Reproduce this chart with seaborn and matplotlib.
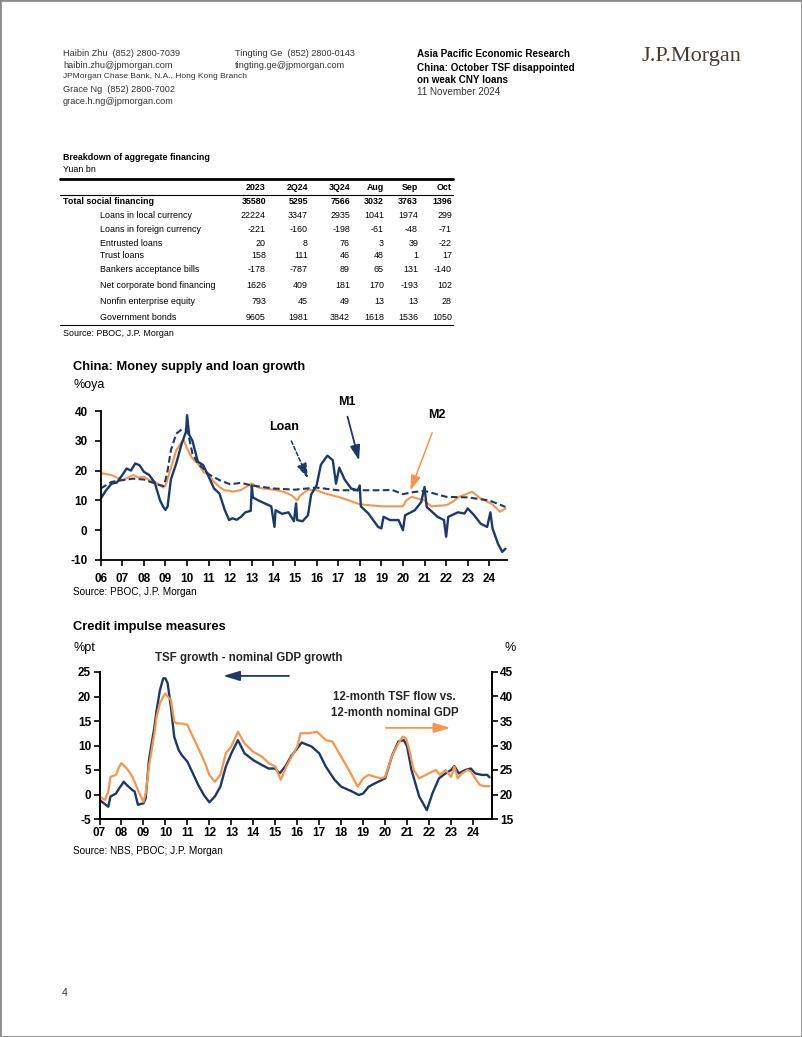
import pandas as pd
import matplotlib.pyplot as plt
import seaborn as sns
from matplotlib.patches import Rectangle

# ---- table data ----
table_cols = ['2023', '2Q24', '3Q24', 'Aug', 'Sep', 'Oct']
table_rows = ['Total social financing', 'Loans in local currency', 'Loans in foreign currency',
              'Entrusted loans', 'Trust loans', 'Bankers acceptance bills',
              'Net corporate bond financing', 'Nonfin enterprise equity', 'Government bonds']
col_2023 = [35580, 22224, -221, 20, 158, -178, 1626, 793, 9605]
col_2q24 = [5295, 3347, -160, 8, 111, -787, 409, 45, 1981]
col_3q24 = [7566, 2935, -198, 76, 46, 89, 181, 49, 3842]
col_aug = [3032, 1041, -61, 3, 48, 65, 170, 13, 1618]
col_sep = [3763, 1974, -48, 39, 1, 131, -193, 13, 1536]
col_oct = [1396, 299, -71, -22, 17, -140, 102, 28, 1050]

# ---- chart 1: money supply and loan growth (%oya), x in years since 2000 ----
m1_year = [6.0, 6.25, 6.5, 6.75, 7.0, 7.2, 7.4, 7.6, 7.8, 8.0, 8.25, 8.5, 8.75, 8.9, 9.0, 9.1,
           9.25, 9.5, 9.75, 9.95, 10.0, 10.1, 10.25, 10.5, 10.75, 11.0, 11.25, 11.5, 11.75, 11.95,
           12.1, 12.3, 12.5, 12.7, 12.95, 13.0, 13.05, 13.3, 13.6, 13.9, 14.05, 14.1, 14.4, 14.7,
           14.95, 15.05, 15.1, 15.35, 15.6, 15.75, 16.0, 16.2, 16.5, 16.75, 16.9, 17.05, 17.3,
           17.6, 17.9, 18.0, 18.05, 18.4, 18.85, 19.0, 19.1, 19.4, 19.8, 20.0, 20.1, 20.55, 20.85,
           21.0, 21.1, 21.6, 21.9, 22.0, 22.1, 22.55, 22.85, 23.0, 23.3, 23.6, 23.9, 24.05, 24.15,
           24.4, 24.6, 24.75]
m1_val = [10.6, 13.4, 15.6, 16.0, 18.5, 20.7, 20.0, 22.4, 21.8, 19.6, 18.5, 16.0, 10.0, 7.8, 6.8, 8.0,
          17.0, 22.4, 29.0, 33.0, 38.6, 32.0, 30.0, 23.0, 21.8, 18.0, 14.0, 12.3, 6.7, 3.4,
          4.0, 3.5, 4.5, 6.0, 6.5, 15.0, 11.0, 10.0, 9.0, 8.0, 1.1, 6.7, 5.5, 6.0,
          3.0, 9.0, 3.4, 3.0, 5.0, 12.0, 15.0, 22.0, 25.0, 23.5, 15.6, 21.0, 17.0,
          14.0, 13.4, 15.0, 8.0, 5.6, 1.1, 0.6, 4.5, 3.4, 3.4, 0.0, 5.0, 6.7, 9.5,
          14.5, 7.8, 4.5, 3.4, -2.2, 4.5, 6.0, 5.6, 7.3, 5.0, 2.2, 1.1, 6.0, 0.6,
          -4.5, -7.3, -6.2]
m2_year = [6.0, 6.5, 7.0, 7.5, 7.75, 8.0, 8.25, 8.5, 8.9, 9.0, 9.25, 9.5, 9.75, 9.85, 10.0, 10.25,
           10.5, 10.75, 11.0, 11.25, 11.5, 11.75, 12.0, 12.1, 12.5, 13.0, 13.25, 13.5, 14.05, 14.5,
           14.85, 15.1, 15.25, 15.6, 16.0, 16.4, 17.0, 17.5, 18.0, 19.0, 20.0, 20.15, 20.4, 21.0,
           21.3, 22.0, 22.3, 22.6, 23.0, 23.2, 23.6, 24.1, 24.5, 24.75]
m2_val = [19.2, 18.5, 16.8, 18.5, 17.7, 17.9, 16.8, 16.2, 14.3, 15.0, 20.7, 26.8, 29.6, 30.2, 27.4, 24.0,
          22.4, 19.6, 18.5, 16.2, 14.5, 13.4, 13.2, 12.9, 13.5, 15.7, 14.5, 14.0, 13.6, 12.8,
          11.7, 10.0, 11.7, 13.6, 13.4, 12.3, 11.2, 10.0, 8.7, 8.0, 8.0, 10.0, 11.2, 10.0,
          8.0, 8.4, 9.5, 11.2, 12.3, 12.9, 10.6, 8.9, 6.2, 7.3]
loan_year = [6.0, 6.5, 7.0, 7.5, 8.0, 8.5, 8.9, 9.0, 9.1, 9.25, 9.5, 9.75, 9.95, 10.05, 10.25, 10.5,
             10.75, 11.0, 11.5, 12.0, 12.5, 13.0, 14.0, 15.0, 16.0, 17.0, 18.0, 19.0, 19.5, 20.0,
             20.5, 21.0, 22.0, 23.0, 24.0, 24.75]
loan_val = [14.0, 16.2, 16.8, 17.3, 17.0, 15.7, 14.8, 16.8, 20.0, 26.8, 32.4, 33.8, 33.8, 32.4, 25.7, 22.4,
            20.7, 18.8, 16.8, 15.4, 15.9, 15.0, 14.0, 13.6, 14.3, 13.4, 13.4, 13.4, 13.5, 12.1,
            12.8, 13.2, 11.2, 11.0, 10.0, 7.8]
x1_labels = ['06', '07', '08', '09', '10', '11', '12', '13', '14', '15', '16', '17', '18', '19',
             '20', '21', '22', '23', '24']

# ---- chart 2: credit impulse measures ----
tsf_year = [7.0, 7.2, 7.4, 7.5, 7.75, 7.9, 8.0, 8.1, 8.25, 8.5, 8.6, 8.75, 9.0, 9.1, 9.25, 9.5, 9.6,
            9.75, 9.9, 10.0, 10.1, 10.25, 10.4, 10.6, 10.75, 11.0, 11.25, 11.5, 11.75, 12.0, 12.25,
            12.5, 12.75, 13.0, 13.3, 13.6, 14.0, 14.4, 14.7, 15.0, 15.2, 15.45, 15.75, 16.0, 16.2,
            16.65, 17.0, 17.3, 17.7, 18.0, 18.5, 18.8, 19.0, 19.25, 19.55, 20.0, 20.3, 20.6, 20.85,
            21.0, 21.2, 21.55, 21.85, 21.9, 22.15, 22.45, 22.75, 23.0, 23.15, 23.35, 23.65, 23.9,
            24.1, 24.4, 24.65, 24.75]
tsf_gap = [-1.1, -1.8, -2.5, -0.4, 0.2, 1.3, 1.9, 2.6, 1.9, 0.9, 0.6, -2.1, -1.8, -0.8, 7.0, 13.8, 17.2,
           21.3, 23.7, 23.7, 22.7, 17.9, 11.8, 9.1, 8.0, 6.7, 4.3, 1.9, -0.1, -1.6, -0.4,
           1.6, 5.7, 8.4, 11.1, 8.4, 7.0, 6.0, 5.3, 5.3, 4.3, 5.7, 8.0, 9.4, 10.6,
           9.8, 8.4, 5.7, 3.0, 1.6, 0.6, -0.1, 0.2, 1.6, 2.3, 3.3, 7.7, 10.8, 11.1,
           9.8, 5.0, -0.4, -2.8, -3.2, 0.2, 3.3, 4.3, 5.0, 5.8, 4.3, 5.0, 5.3,
           4.3, 4.0, 4.0, 3.5]
flow_year = [7.0, 7.25, 7.4, 7.5, 7.75, 7.9, 8.0, 8.25, 8.5, 8.75, 9.0, 9.1, 9.25, 9.5, 9.6, 9.75,
             9.9, 10.0, 10.1, 10.25, 10.4, 10.5, 10.75, 11.0, 11.25, 11.5, 11.75, 12.0, 12.25, 12.5,
             12.75, 13.0, 13.3, 13.6, 14.0, 14.4, 14.7, 15.0, 15.25, 15.5, 16.0, 16.15, 16.5, 16.9,
             17.3, 17.6, 18.0, 18.35, 18.75, 19.0, 19.25, 19.55, 19.8, 20.0, 20.3, 20.6, 20.8, 20.95,
             21.1, 21.3, 21.55, 21.85, 22.3, 22.5, 22.75, 23.0, 23.15, 23.3, 23.5, 23.75, 23.9, 24.1,
             24.3, 24.5, 24.75]
flow_ratio = [19.6, 18.9, 20.6, 23.6, 24.0, 25.7, 26.4, 25.3, 23.6, 20.9, 18.5, 20.2, 25.7, 32.5, 35.9, 38.6,
              40.0, 40.6, 40.0, 39.3, 34.9, 34.5, 34.5, 34.2, 31.8, 29.4, 27.0, 24.0, 22.6, 24.0,
              28.4, 29.8, 32.8, 30.4, 28.7, 27.7, 26.4, 25.7, 23.0, 25.7, 29.8, 32.5, 32.5, 32.8,
              31.1, 30.8, 27.7, 25.0, 21.6, 23.3, 24.0, 23.6, 23.3, 23.6, 27.7, 30.4, 31.8, 31.5,
              29.1, 25.0, 23.3, 24.0, 25.0, 24.0, 25.0, 23.6, 25.7, 23.3, 24.3, 25.0, 24.7, 23.3,
              22.0, 21.7, 21.7]
x2_labels = x1_labels[1:]

NAVY = '#1b3a6b'
ORANGE = '#f7964a'
GREY = '#333333'
W, H = 802, 1037

sns.set_style('ticks')
plt.rcParams['font.family'] = ['Liberation Sans', 'DejaVu Sans']
plt.rcParams['axes.unicode_minus'] = False

fig = plt.figure(figsize=(W / 100, H / 100), dpi=100)


def txt(x, y, s, **kw):
    kw.setdefault('va', 'center')
    kw.setdefault('color', GREY)
    fig.text(x / W, 1 - y / H, s, **kw)


def hline(y, x0, x1, lw):
    fig.add_artist(plt.Line2D([x0 / W, x1 / W], [1 - y / H, 1 - y / H], color='black', lw=lw))


# page frame
fig.add_artist(Rectangle((0, 0), 1, 1, transform=fig.transFigure, fill=False,
                         edgecolor='#8c8c8c', lw=2))

# ---- header ----
hs = 6.6
txt(63, 54, 'Haibin Zhu  (852) 2800-7039', fontsize=hs)
txt(63, 65, 'haibin.zhu@jpmorgan.com', fontsize=hs)
txt(63, 77, 'JPMorgan Chase Bank, N.A., Hong Kong Branch', fontsize=6.0)
txt(63, 90, 'Grace Ng  (852) 2800-7002', fontsize=hs)
txt(63, 102, 'grace.h.ng@jpmorgan.com', fontsize=hs)
txt(235, 54, 'Tingting Ge  (852) 2800-0143', fontsize=hs)
txt(235, 65, 'tingting.ge@jpmorgan.com', fontsize=hs)
txt(417, 54, 'Asia Pacific Economic Research', fontsize=7.1, weight='bold', color='black')
txt(417, 68, 'China: October TSF disappointed', fontsize=7.1, weight='bold', color='black')
txt(417, 80, 'on weak CNY loans', fontsize=7.1, weight='bold', color='black')
txt(417, 92, '11 November 2024', fontsize=7.1)
txt(642, 56, 'J.P.Morgan', fontsize=16, color='#4a3b30', family=['Liberation Serif', 'DejaVu Serif'])

# ---- table ----
ts = 6.4
txt(63, 158, 'Breakdown of aggregate financing', fontsize=ts, weight='bold', color='black')
txt(63, 170, 'Yuan bn', fontsize=ts, color='black')
hline(179, 60, 453, 2.0)
col_x = [266, 308, 350, 384, 418, 452]
row_y = [202, 215.5, 229, 243, 256, 269.5, 286, 301, 317]
for cx, name in zip(col_x, table_cols):
    txt(cx, 188, name, fontsize=ts, weight='bold', color='black', ha='right')
hline(195, 60, 453, 0.8)
cols = [col_2023, col_2q24, col_3q24, col_aug, col_sep, col_oct]
for i, (ry, label) in enumerate(zip(row_y, table_rows)):
    bold = 'bold' if i == 0 else 'normal'
    txt(63 if i == 0 else 100, ry, label, fontsize=ts, weight=bold, color='black')
    for cx, col in zip(col_x, cols):
        txt(cx, ry, str(col[i]), fontsize=ts, weight=bold, color='black', ha='right')
hline(325, 60, 453, 0.8)
txt(63, 334, 'Source: PBOC, J.P. Morgan', fontsize=ts, color='black')


def style_axis(ax, pad_y, pad_x):
    for s in ax.spines.values():
        s.set_linewidth(1.3)
        s.set_color('black')
    ax.tick_params(axis='y', length=4, width=1.2, pad=pad_y, labelsize=8.5, colors='black')
    ax.tick_params(axis='x', length=4, width=1.2, pad=pad_x, labelsize=8.5, colors='black')
    for lab in ax.get_xticklabels() + ax.get_yticklabels():
        lab.set_fontweight('bold')
    ax.set_xlabel('')
    ax.set_ylabel('')


# ---- chart 1 ----
ax1 = fig.add_axes([100.7 / W, 1 - 560 / H, 406.3 / W, 149 / H])
df_m2 = pd.DataFrame({'year': m2_year, 'val': m2_val})
df_loan = pd.DataFrame({'year': loan_year, 'val': loan_val})
df_m1 = pd.DataFrame({'year': m1_year, 'val': m1_val})
sns.lineplot(data=df_m2, x='year', y='val', ax=ax1, color=ORANGE, lw=1.5)
sns.lineplot(data=df_loan, x='year', y='val', ax=ax1, color=NAVY, lw=1.5, linestyle=(0, (3.2, 1.6)))
sns.lineplot(data=df_m1, x='year', y='val', ax=ax1, color=NAVY, lw=1.7)
ax1.set_xlim(6, 24.82)
ax1.set_ylim(-10, 40)
ax1.set_yticks([-10, 0, 10, 20, 30, 40])
ax1.set_xticks(range(6, 25))
ax1.set_xticklabels(x1_labels)
sns.despine(ax=ax1)
style_axis(ax1, 5.5, 5)

lab_kw = dict(fontsize=9, weight='bold', color='black', ha='center', va='center', clip_on=False)
head = '-|>,head_length=0.9,head_width=0.3'
ax1.annotate('', xy=(18.0, 22.5), xytext=(17.4, 39.0), annotation_clip=False,
             arrowprops=dict(arrowstyle=head, color=NAVY, lw=1.3))
ax1.text(17.4, 43.0, 'M1', **lab_kw)
ax1.annotate('', xy=(15.65, 16.5), xytext=(14.78, 30.8), annotation_clip=False,
             arrowprops=dict(arrowstyle=head, color=NAVY, lw=1.1, linestyle=(0, (2.5, 1.5))))
ax1.text(14.5, 34.6, 'Loan', **lab_kw)
ax1.annotate('', xy=(20.3, 12.5), xytext=(21.4, 33.6), annotation_clip=False,
             arrowprops=dict(arrowstyle=head, color=ORANGE, lw=1.1))
ax1.text(21.55, 38.6, 'M2', **lab_kw)

txt(73, 367, 'China: Money supply and loan growth', fontsize=9.3, weight='bold', color='black')
txt(73, 385, '%oya', fontsize=9, color='black')
txt(73, 592, 'Source: PBOC, J.P. Morgan', fontsize=7.2, color='black')

# ---- chart 2 ----
ax2 = fig.add_axes([99.5 / W, 1 - 819 / H, 392.2 / W, 147 / H])
ax2r = ax2.twinx()
df_tsf = pd.DataFrame({'year': tsf_year, 'val': tsf_gap})
df_flow = pd.DataFrame({'year': flow_year, 'val': flow_ratio})
sns.lineplot(data=df_tsf, x='year', y='val', ax=ax2, color=NAVY, lw=1.7)
sns.lineplot(data=df_flow, x='year', y='val', ax=ax2r, color=ORANGE, lw=1.6)
ax2.set_xlim(7, 24.85)
ax2.set_ylim(-5, 25)
ax2r.set_ylim(15, 45)
ax2.set_yticks(range(-5, 26, 5))
ax2r.set_yticks(range(15, 46, 5))
ax2.set_xticks(range(7, 25))
ax2.set_xticklabels(x2_labels)
ax2.spines['top'].set_visible(False)
ax2r.spines['top'].set_visible(False)
style_axis(ax2, 2, 1.5)
style_axis(ax2r, 2, 1.5)

ax2.annotate('', xy=(12.5, 24.2), xytext=(15.75, 24.2), annotation_clip=False,
             arrowprops=dict(arrowstyle='-|>,head_length=1.0,head_width=0.3', color=NAVY, lw=1.3))
ax2.text(13.8, 27.9, 'TSF growth - nominal GDP growth', fontsize=8.3, weight='bold',
         ha='center', va='center', clip_on=False)
ax2.text(20.42, 18.2, '12-month TSF flow vs.\n12-month nominal GDP', fontsize=8.3, weight='bold',
         ha='center', va='center', linespacing=1.45)
ax2.annotate('', xy=(23.1, 13.6), xytext=(19.9, 13.6), annotation_clip=False,
             arrowprops=dict(arrowstyle='-|>,head_length=1.0,head_width=0.3', color=ORANGE, lw=1.3))

txt(73, 627, 'Credit impulse measures', fontsize=9.3, weight='bold', color='black')
txt(73, 648, '%pt', fontsize=9, color='black')
txt(510, 648, '%', fontsize=9, color='black', ha='center')
txt(73, 851, 'Source: NBS, PBOC; J.P. Morgan', fontsize=7.2, color='black')

txt(62, 993, '4', fontsize=7.5)

fig.savefig('out.png', dpi=100)
